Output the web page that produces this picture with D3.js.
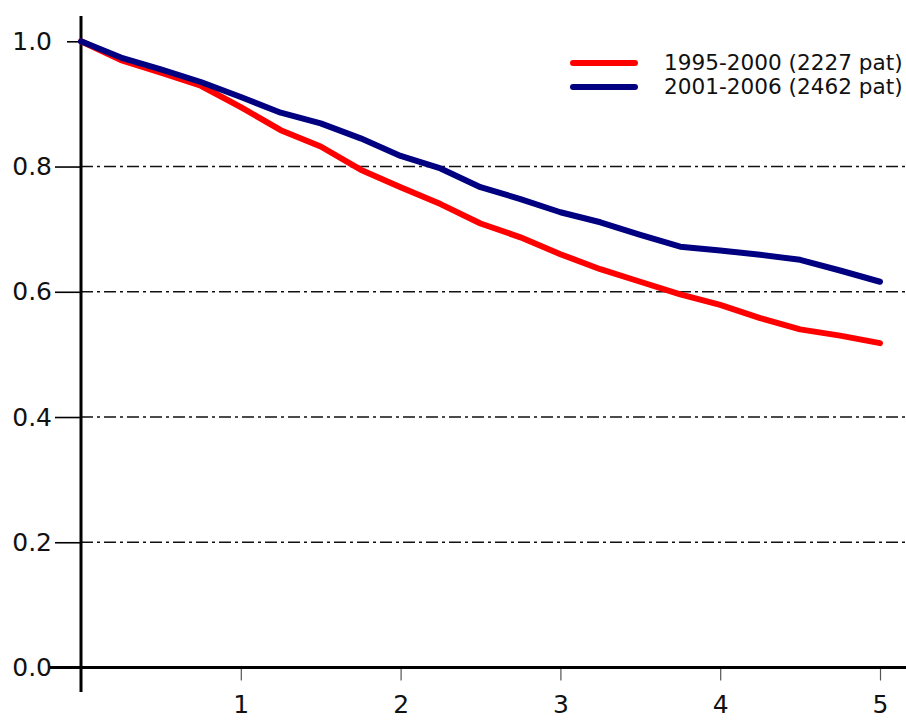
<!DOCTYPE html>
<html>
<head>
<meta charset="utf-8">
<script src="https://cdn.jsdelivr.net/npm/d3@7"></script>
<style>
  body { margin: 0; background: #fff; }
  svg text { font-family: "DejaVu Sans", Verdana, sans-serif; }
</style>
</head>
<body>
<svg id="chart" width="906" height="720"></svg>
<script>
// follow-up years, every quarter
const years = [0, 0.25, 0.5, 0.75, 1, 1.25, 1.5, 1.75, 2, 2.25, 2.5, 2.75, 3,
               3.25, 3.5, 3.75, 4, 4.25, 4.5, 4.75, 5]
const survival9500 = [1.0, 0.970, 0.950, 0.929, 0.895, 0.858, 0.832, 0.795, 0.767, 0.740, 0.709,
                      0.687, 0.660, 0.636, 0.616, 0.596, 0.579, 0.558, 0.540, 0.530, 0.518]
const survival0106 = [1.0, 0.974, 0.955, 0.935, 0.911, 0.886, 0.869, 0.845, 0.817, 0.797, 0.767,
                      0.748, 0.727, 0.711, 0.691, 0.672, 0.666, 0.659, 0.651, 0.634, 0.616]
const seriesNames = ["1995-2000 (2227 pat)", "2001-2006 (2462 pat)"]
const seriesColors = ["#ff0000", "#000080"]
const xTicks = [1, 2, 3, 4, 5]
const yTicks = [0, 0.2, 0.4, 0.6, 0.8, 1.0]

const svg = d3.select("#chart")

const x = d3.scaleLinear().domain([0, 5]).range([81, 880])
const y = d3.scaleLinear().domain([0, 1]).range([667.5, 41.3])

// dash-dot grid lines
svg.append("g")
    .selectAll("line")
    .data(yTicks.filter(d => d > 0 && d < 1))
    .enter()
    .append("line")
    .attr("x1", x(0))
    .attr("x2", 906)
    .attr("y1", d => y(d))
    .attr("y2", d => y(d))
    .attr("stroke", "#111")
    .attr("stroke-width", 1.4)
    .attr("stroke-dasharray", "12,4,3,4")

// y axis ticks + labels
const yAxis = svg.append("g")
    .attr("transform", `translate(${x(0)},0)`)
    .call(d3.axisLeft(y).tickValues(yTicks).tickFormat(d3.format(".1f")).tickSize(26).tickPadding(3))
yAxis.select(".domain").remove()
yAxis.selectAll(".tick line")
    .attr("stroke", "#000")
    .attr("stroke-width", 1.6)
    .attr("x2", d => d === 1 ? -14 : -26)
yAxis.selectAll(".tick text")
    .attr("font-size", 25)
    .attr("fill", "#111")

// x axis ticks + labels
const xAxis = svg.append("g")
    .attr("transform", `translate(0,${y(0)})`)
    .call(d3.axisBottom(x).tickValues(xTicks).tickFormat(d3.format("d")).tickSize(13).tickPadding(15))
xAxis.select(".domain").remove()
xAxis.selectAll(".tick line").attr("stroke", "#555").attr("stroke-width", 1.2)
xAxis.selectAll(".tick text")
    .attr("font-size", 25)
    .attr("fill", "#111")

// axis lines
svg.append("line")
    .attr("x1", x(0)).attr("x2", x(0))
    .attr("y1", 16).attr("y2", 692)
    .attr("stroke", "#000").attr("stroke-width", 3)
svg.append("line")
    .attr("x1", 50).attr("x2", 906)
    .attr("y1", y(0)).attr("y2", y(0))
    .attr("stroke", "#000").attr("stroke-width", 3)

// survival curves
const line = d3.line()
    .x((d, i) => x(years[i]))
    .y(d => y(d))

const allSeries = [survival9500, survival0106]
svg.append("g")
    .selectAll("path")
    .data(allSeries)
    .enter()
    .append("path")
    .attr("fill", "none")
    .attr("stroke", (d, i) => seriesColors[i])
    .attr("stroke-width", 6)
    .attr("stroke-linecap", "round")
    .attr("stroke-linejoin", "round")
    .attr("d", line)

// legend
const legend = svg.append("g")
    .selectAll("g")
    .data(seriesNames)
    .enter()
    .append("g")
    .attr("transform", (d, i) => `translate(0,${63 + i * 24})`)
legend.append("line")
    .attr("x1", 573).attr("x2", 635)
    .attr("stroke", (d, i) => seriesColors[i])
    .attr("stroke-width", 6)
    .attr("stroke-linecap", "round")
legend.append("text")
    .attr("x", 664)
    .attr("y", 7)
    .attr("font-size", 21.6)
    .attr("fill", "#111")
    .text(d => d)
</script>
</body>
</html>
